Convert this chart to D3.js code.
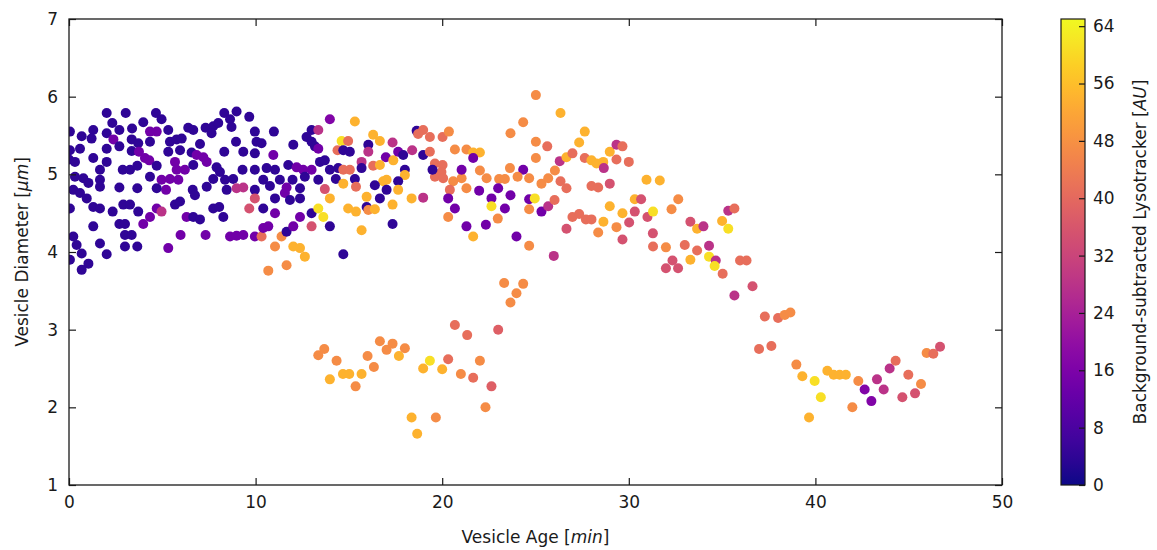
<!DOCTYPE html>
<html>
<head>
<meta charset="utf-8">
<script src="https://cdn.jsdelivr.net/npm/d3@7"></script>
<style>
body {margin: 0; background: #fff;}
svg {display: block;}
</style>
</head>
<body>
<svg id="chart" width="1157" height="550"></svg>
<script>
// each row: [age (min), diameter (um), background-subtracted lysotracker (AU)]
var youngVesicles = [
  [2.02,5.79,4],[3.04,5.79,4],[4.66,5.79,4],[4.96,5.71,4],[8.32,5.79,4],[8.98,5.81,4],[8.63,5.71,4],[9.66,5.74,4],
  [2.32,5.66,4],[3.98,5.67,4],[3.38,5.59,4],[2.70,5.57,4],[2.02,5.53,4],[1.30,5.57,4],[0.05,5.55,4],[0.68,5.49,4],[1.21,5.46,4],
  [4.34,5.55,14],[4.70,5.55,14],[5.32,5.57,4],[6.39,5.60,4],[6.66,5.57,4],[7.32,5.60,4],[7.73,5.62,4],[8.00,5.66,4],[7.64,5.53,4],[8.71,5.61,4],
  [2.38,5.45,14],[3.36,5.45,4],[5.41,5.42,4],[5.77,5.45,4],[6.04,5.46,4],[4.34,5.42,4],[3.71,5.40,4],[7.02,5.39,4],[8.95,5.42,4],
  [0.05,5.31,4],[0.59,5.33,4],[2.02,5.33,4],[2.70,5.36,4],[3.36,5.30,4],[3.75,5.29,14],[5.32,5.29,4],[5.95,5.31,4],[6.57,5.28,4],
  [6.84,5.25,14],[7.20,5.22,14],[7.38,5.16,14],[8.32,5.29,4],[9.34,5.29,4],
  [0.00,5.19,4],[0.32,5.16,4],[1.30,5.21,4],[2.02,5.16,4],[1.66,5.06,4],[2.88,5.06,4],[3.27,5.06,4],[3.66,5.11,4],[4.07,5.21,14],[4.30,5.18,14],
  [4.70,5.11,4],[5.68,5.16,14],[5.77,5.06,14],[6.21,5.06,14],[6.66,5.12,4],[7.91,5.09,4],[8.09,5.03,4],[9.30,5.06,4],
  [0.32,4.97,4],[0.77,4.95,4],[1.04,4.89,4],[1.66,4.93,4],[1.66,4.84,4],[2.70,4.83,4],[3.66,4.82,4],[4.34,4.97,4],[4.96,4.93,14],[5.41,4.94,14],
  [5.20,4.80,14],[4.70,4.82,4],[5.86,4.93,14],[6.63,4.80,4],[6.75,4.73,4],[7.38,4.84,4],[7.73,4.94,4],[8.36,4.93,4],[8.45,4.80,4],[8.80,4.94,4],
  [8.98,4.82,28],[9.34,4.83,28],
  [0.23,4.80,4],[0.59,4.76,4],[0.95,4.69,4],[1.30,4.58,4],[1.66,4.56,4],[0.05,4.56,4],[2.34,4.52,4],[2.91,4.61,4],[3.27,4.61,4],[3.71,4.52,4],
  [4.70,4.56,14],[4.34,4.45,14],[3.98,4.36,14],[4.96,4.52,28],[5.68,4.61,4],[5.95,4.65,4],[6.30,4.45,14],[6.66,4.45,4],[7.02,4.42,4],[7.73,4.56,4],
  [8.05,4.58,4],[8.27,4.45,4],[9.66,4.56,35],
  [1.30,4.33,4],[2.70,4.36,4],[3.00,4.36,4],[3.00,4.22,4],[3.36,4.22,4],[5.98,4.22,14],[7.32,4.22,14],[8.63,4.20,14],[8.98,4.21,14],[9.34,4.22,14],
  [0.23,4.20,4],[0.41,4.09,4],[1.66,4.11,4],[3.00,4.07,4],[3.66,4.07,4],[5.32,4.05,14],[0.68,3.98,4],[0.05,3.90,4],[2.02,3.97,4],[1.04,3.85,4],[0.68,3.77,4]
];

var midVesicles = [
  [13.98,5.71,17],[15.32,5.68,54],[9.96,5.55,4],[10.98,5.55,4],[13.00,5.57,4],[13.36,5.57,28],[12.73,5.48,4],[14.61,5.43,61],[14.96,5.43,41],
  [16.30,5.51,54],[16.66,5.43,54],[17.34,5.41,28],[18.63,5.56,4],[18.71,5.52,41],[18.98,5.57,41],[19.34,5.48,41],[20.02,5.48,41],[20.36,5.55,47],
  [10.05,5.42,4],[10.32,5.40,4],[12.02,5.38,4],[13.00,5.42,4],[13.18,5.36,4],[13.36,5.33,14],[14.39,5.31,41],[14.70,5.31,4],[15.05,5.29,4],
  [16.04,5.38,4],[16.04,5.29,28],[16.98,5.22,14],[17.38,5.18,54],[17.64,5.29,14],[17.91,5.25,4],[18.39,5.31,28],[18.98,5.25,4],[19.34,5.29,41],
  [19.61,5.14,41],[20.02,5.12,41],[19.96,5.03,41],[20.68,5.32,47],[21.30,5.32,47],[9.96,5.27,4],[10.95,5.25,14],
  [9.96,5.06,4],[10.59,5.08,4],[11.04,5.06,4],[11.75,5.12,4],[12.20,5.09,14],[12.55,5.06,14],[13.00,5.06,14],[13.45,5.16,4],[13.71,5.18,4],
  [13.98,5.06,4],[14.43,5.08,4],[14.70,5.06,41],[15.05,5.06,41],[15.68,5.16,28],[15.68,5.08,4],[16.30,5.11,41],[16.66,5.12,54],[18.00,5.06,4],
  [18.00,4.99,54],[19.61,4.97,41],[20.05,4.95,41],[20.59,4.91,47],[21.04,4.95,47],[21.04,5.06,14],[19.48,5.06,4],
  [10.41,4.93,4],[11.30,4.93,4],[11.98,4.93,4],[12.64,4.97,4],[13.36,4.93,4],[14.30,4.94,4],[15.32,4.94,4],[16.84,4.91,54],[17.02,4.93,54],
  [17.64,4.91,4],[16.39,4.86,4],[17.02,4.80,4],[9.96,4.80,4],[10.77,4.85,4],[11.66,4.83,14],[12.38,4.82,4],[13.71,4.81,35],[14.70,4.88,54],
  [15.38,4.84,41],[17.64,4.80,54],[20.41,4.80,41],[21.30,4.82,47],
  [9.96,4.69,35],[11.04,4.69,4],[11.57,4.76,14],[11.84,4.67,4],[12.38,4.69,4],[13.98,4.69,54],[15.95,4.71,54],[16.66,4.69,4],[18.36,4.69,54],
  [18.98,4.70,28],[20.32,4.69,14],[20.68,4.56,14],[10.41,4.56,4],[11.04,4.50,14],[12.38,4.45,14],[13.00,4.50,4],[13.36,4.56,61],[13.63,4.45,61],
  [13.00,4.33,35],[13.98,4.33,4],[14.96,4.56,54],[15.38,4.52,54],[15.95,4.58,4],[16.04,4.54,47],[16.39,4.55,54],[17.34,4.61,54],[17.34,4.36,4],
  [20.32,4.45,47],[21.30,4.33,14],[9.96,4.20,14],[10.32,4.20,41],[10.41,4.31,14],[10.68,4.33,14],[11.39,4.20,47],[11.66,4.26,4],[12.02,4.33,14],
  [15.68,4.28,54],[11.04,4.07,47],[12.02,4.07,54],[12.38,4.05,54],[12.64,3.94,54],[14.70,3.97,4],[11.66,3.83,47],[10.68,3.76,47]
];

var olderVesicles = [
  [25.02,6.02,47],[26.34,5.79,54],[24.34,5.67,47],[23.66,5.53,47],[27.64,5.55,54],[27.34,5.41,54],[25.02,5.42,47],[25.63,5.36,41],[25.02,5.21,47],
  [21.66,5.28,54],[22.02,5.28,54],[21.66,5.21,14],[26.30,5.17,28],[26.66,5.22,54],[26.98,5.27,41],[27.64,5.21,41],[28.00,5.18,54],[28.27,5.14,54],
  [28.63,5.16,54],[28.66,5.08,28],[28.98,5.29,54],[29.34,5.38,28],[29.66,5.36,41],[29.34,5.19,41],[30.00,5.16,41],[30.95,4.93,54],
  [23.63,5.08,47],[24.34,5.06,14],[24.04,4.97,47],[24.66,4.95,47],[25.32,4.88,47],[25.68,4.95,47],[26.04,5.05,47],[26.34,4.91,41],[26.66,4.82,41],
  [28.00,4.85,41],[28.36,4.83,41],[28.98,4.88,35],[22.02,5.05,47],[22.38,4.95,47],[23.05,4.94,47],[23.36,4.94,47],
  [21.98,4.79,14],[23.00,4.82,14],[22.64,4.69,14],[22.64,4.59,61],[23.36,4.56,14],[23.66,4.73,14],[24.66,4.68,14],[24.96,4.69,61],[25.32,4.52,14],
  [25.68,4.59,28],[26.02,4.67,41],[24.66,4.55,47],[22.98,4.43,47],[22.34,4.35,14],[21.66,4.20,54],[23.98,4.20,14],[24.66,4.08,47],[25.98,3.95,28],
  [26.98,4.45,41],[27.34,4.49,41],[27.70,4.42,41],[28.00,4.42,41],[26.66,4.30,35],[28.36,4.25,47],[28.64,4.39,54],[28.98,4.59,54],[29.34,4.32,47],
  [29.66,4.50,54],[30.02,4.38,35],[29.66,4.16,35],[30.32,4.68,54],[30.66,4.68,35],[31.00,4.45,35],[30.32,4.52,35]
];

var shrinkingVesicles = [
  [31.66,4.92,54],[32.65,4.68,47],[32.29,4.55,47],[31.30,4.52,61],[31.29,4.24,35],[31.30,4.07,41],[31.99,4.06,47],[32.34,3.89,35],[31.99,3.79,35],
  [32.64,3.79,35],[33.00,4.09,41],[33.30,3.90,54],[33.30,4.39,35],[33.66,4.30,54],[34.00,4.33,28],[33.66,4.02,41],[34.30,4.08,28],[34.30,3.94,61],
  [34.66,3.89,28],[34.60,3.82,61],[35.03,3.72,41],[35.33,4.53,28],[35.66,4.56,41],[35.00,4.40,54],[35.33,4.30,61],[35.96,3.89,41],[36.31,3.89,41],
  [36.63,3.56,35],[35.66,3.44,28],[36.98,2.75,41]
];

var smallVesicles = [
  [37.29,3.17,41],[38.00,3.15,41],[38.36,3.19,47],[38.66,3.22,47],[37.64,2.79,41],[38.98,2.55,47],[39.30,2.40,54],[39.96,2.34,61],[40.29,2.13,61],
  [39.66,1.87,54],[40.64,2.47,54],[40.98,2.42,54],[41.30,2.42,54],[41.63,2.42,54],[41.98,2.00,47],[42.30,2.34,47],[42.64,2.23,17],[43.00,2.08,17],
  [43.30,2.36,28],[43.66,2.23,28],[43.98,2.50,28],[44.30,2.60,41],[44.66,2.13,35],[44.98,2.42,41],[45.34,2.18,35],[45.66,2.30,47],[45.96,2.70,47],
  [46.32,2.69,41],[46.68,2.78,35]
];

var lowBranch = [
  [23.32,3.60,47],[24.34,3.59,47],[23.98,3.47,47],[23.66,3.35,47],[20.68,3.06,41],[21.34,2.93,41],[23.00,3.00,38],[22.02,2.60,47],[22.64,2.27,38],
  [22.32,2.00,47],[13.36,2.67,47],[13.68,2.75,47],[14.34,2.60,47],[13.98,2.36,54],[14.68,2.43,54],[15.02,2.43,54],[15.68,2.43,54],[15.36,2.27,47],
  [16.00,2.66,47],[16.34,2.52,47],[16.66,2.85,47],[17.02,2.74,47],[17.34,2.82,47],[17.68,2.66,54],[18.00,2.76,47],[18.98,2.50,54],[19.34,2.60,61],
  [20.00,2.49,54],[20.32,2.62,41],[21.00,2.43,47],[21.66,2.38,41],[18.36,1.87,54],[18.66,1.66,54],[19.66,1.87,47]
];

var xTicks = [0, 10, 20, 30, 40, 50];
var yTicks = [1, 2, 3, 4, 5, 6, 7];
var colorTicks = [0, 8, 16, 24, 32, 40, 48, 56, 64];

var plot = {left: 69, right: 1002, top: 19, bottom: 485};
var bar = {left: 1061, width: 24};
var font = '"DejaVu Sans", sans-serif';
var ink = '#1a1a1a';

var svg = d3.select('#chart');

var x = d3.scaleLinear().domain([0, 50]).range([plot.left, plot.right]);
var y = d3.scaleLinear().domain([1, 7]).range([plot.bottom, plot.top]);
var c = d3.scaleLinear().domain([0, 65]).range([plot.bottom, plot.top]);
var color = d3.scaleSequential(d3.interpolatePlasma).domain([0, 65]);

var points = [].concat(youngVesicles, midVesicles, olderVesicles, shrinkingVesicles, smallVesicles, lowBranch)
  .map(function(d) { return {age: d[0], diam: d[1], lyso: d[2]}; });

var defs = svg.append('defs');
defs.append('clipPath').attr('id', 'plotClip')
  .append('rect')
  .attr('x', plot.left).attr('y', plot.top)
  .attr('width', plot.right - plot.left).attr('height', plot.bottom - plot.top);

var grad = defs.append('linearGradient').attr('id', 'plasma')
  .attr('x1', 0).attr('y1', 1).attr('x2', 0).attr('y2', 0);
grad.selectAll('stop')
  .data(d3.range(0, 1.0001, 0.05))
  .enter().append('stop')
  .attr('offset', function(t) { return t; })
  .attr('stop-color', function(t) { return d3.interpolatePlasma(t); });

// points
svg.append('g')
  .attr('clip-path', 'url(#plotClip)')
  .selectAll('circle')
  .data(points)
  .enter().append('circle')
  .attr('cx', function(d) { return x(d.age); })
  .attr('cy', function(d) { return y(d.diam); })
  .attr('r', 5)
  .attr('fill', function(d) { return color(d.lyso); });

function styleAxis(g) {
  g.select('.domain').remove();
  g.selectAll('line').attr('stroke', ink).attr('stroke-width', 1.2);
  g.selectAll('text').attr('fill', ink);
  g.attr('font-size', 17).attr('font-family', font);
}

svg.append('g')
  .attr('transform', 'translate(0,' + plot.bottom + ')')
  .call(d3.axisBottom(x).tickValues(xTicks).tickSizeInner(-7).tickSizeOuter(0).tickPadding(11).tickFormat(d3.format('d')))
  .call(styleAxis);

svg.append('g')
  .attr('transform', 'translate(0,' + plot.top + ')')
  .call(d3.axisTop(x).tickValues(xTicks).tickSizeInner(-7).tickSizeOuter(0).tickFormat(''))
  .call(styleAxis);

svg.append('g')
  .attr('transform', 'translate(' + plot.left + ',0)')
  .call(d3.axisLeft(y).tickValues(yTicks).tickSizeInner(-7).tickSizeOuter(0).tickPadding(11).tickFormat(d3.format('d')))
  .call(styleAxis);

svg.append('g')
  .attr('transform', 'translate(' + plot.right + ',0)')
  .call(d3.axisRight(y).tickValues(yTicks).tickSizeInner(-7).tickSizeOuter(0).tickFormat(''))
  .call(styleAxis);

svg.append('rect')
  .attr('x', plot.left).attr('y', plot.top)
  .attr('width', plot.right - plot.left).attr('height', plot.bottom - plot.top)
  .attr('fill', 'none').attr('stroke', ink).attr('stroke-width', 1.3);

// colorbar
svg.append('rect')
  .attr('x', bar.left).attr('y', plot.top)
  .attr('width', bar.width).attr('height', plot.bottom - plot.top)
  .attr('fill', 'url(#plasma)')
  .attr('stroke', ink).attr('stroke-width', 1.2);

svg.append('g')
  .attr('transform', 'translate(' + (bar.left + bar.width) + ',0)')
  .call(d3.axisRight(c).tickValues(colorTicks).tickSizeInner(-6).tickSizeOuter(0).tickPadding(8))
  .call(styleAxis);

// axis titles
function mathLabel(sel, plain, italic) {
  sel.append('tspan').text(plain + ' [');
  sel.append('tspan').attr('font-style', 'italic').text(italic);
  sel.append('tspan').text(']');
}

svg.append('text')
  .attr('x', (plot.left + plot.right) / 2).attr('y', 543)
  .attr('text-anchor', 'middle')
  .attr('font-family', font).attr('font-size', 17).attr('fill', ink)
  .call(mathLabel, 'Vesicle Age', 'min');

svg.append('text')
  .attr('transform', 'translate(28,' + ((plot.top + plot.bottom) / 2) + ') rotate(-90)')
  .attr('text-anchor', 'middle')
  .attr('font-family', font).attr('font-size', 17).attr('fill', ink)
  .call(mathLabel, 'Vesicle Diameter', 'μm');

svg.append('text')
  .attr('transform', 'translate(1146,' + ((plot.top + plot.bottom) / 2) + ') rotate(-90)')
  .attr('text-anchor', 'middle')
  .attr('font-family', font).attr('font-size', 17).attr('fill', ink)
  .call(mathLabel, 'Background-subtracted Lysotracker', 'AU');
</script>
</body>
</html>
